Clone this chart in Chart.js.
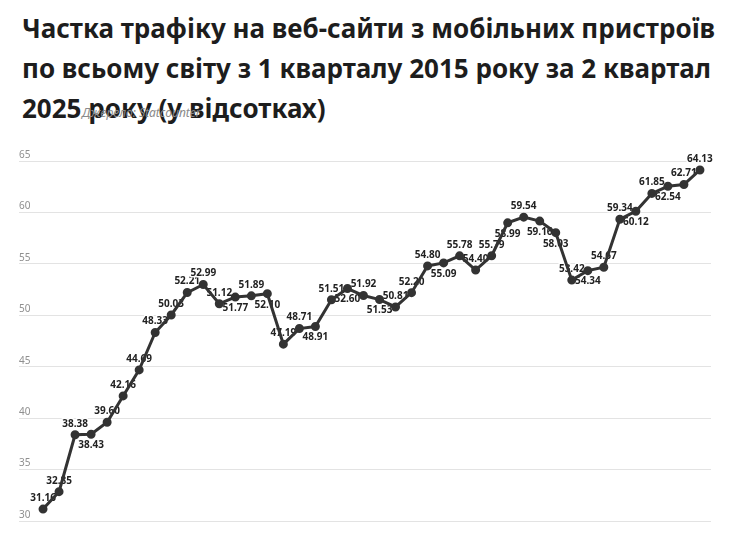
<!DOCTYPE html>
<html lang="uk">
<head>
<meta charset="utf-8">
<script src="https://cdn.jsdelivr.net/npm/chart.js@4/dist/chart.umd.min.js"></script>
<style>
  html, body { margin: 0; padding: 0; background: #fff; }
  #wrap { position: relative; width: 749px; height: 546px; overflow: hidden; }
  #title {
    position: absolute; left: 22px; top: 8px; width: 712px;
    font-family: "Noto Sans", sans-serif; font-weight: 700;
    font-size: 26px; line-height: 40px; color: #1d1d1d;
  }
  #source {
    position: absolute; left: 82px; top: 104px;
    font-family: "Noto Sans", sans-serif; font-style: italic;
    font-size: 12px; color: #8a8a8a;
  }
  canvas { position: absolute; left: 0; top: 0; }
</style>
</head>
<body>
<div id="wrap">
  <div id="title">Частка трафіку на веб-сайти з мобільних пристроїв по всьому світу з 1 кварталу 2015 року за 2 квартал 2025 року (у відсотках)</div>
  <div id="source">Джерело: Statcounter</div>
  <canvas id="chart" width="749" height="546"></canvas>
</div>
<script>
  // квартали Q1 2015 ... Q2 2025
  const years = [2015, 2016, 2017, 2018, 2019, 2020, 2021, 2022, 2023, 2024, 2025];
  const quarters = [];
  years.forEach(y => {
    for (let q = 1; q <= 4; q++) {
      if (y === 2025 && q > 2) break;
      quarters.push(`Q${q} ${y}`);
    }
  });

  const share = [
    31.16, 32.85, 38.38, 38.43, 39.60, 42.16, 44.69, 48.33, 50.03, 52.21,
    52.99, 51.12, 51.77, 51.89, 52.10, 47.19, 48.71, 48.91, 51.51, 52.60,
    51.92, 51.53, 50.81, 52.20, 54.80, 55.09, 55.78, 54.40, 55.79, 58.99,
    59.54, 59.16, 58.03, 53.42, 54.34, 54.67, 59.34, 60.12, 61.85, 62.54,
    62.71, 64.13
  ];

  const yTicks = [30, 35, 40, 45, 50, 55, 60, 65];

  // підписи, що стоять під точкою
  const labelsBelow = [3, 12, 14, 17, 19, 21, 25, 29, 31, 32, 34, 37, 39];

  const valueLabels = {
    id: "valueLabels",
    beforeDatasetsDraw(chart) {
      const ctx = chart.ctx;
      const meta = chart.getDatasetMeta(0);
      ctx.save();
      ctx.font = "bold 10px 'Noto Sans', sans-serif";
      ctx.textAlign = "center";
      ctx.textBaseline = "middle";
      ctx.lineJoin = "round";
      meta.data.forEach((pt, i) => {
        const below = labelsBelow.includes(i);
        const y = pt.y + (below ? 11 : -11);
        const text = share[i].toFixed(2);
        ctx.strokeStyle = "#fff";
        ctx.lineWidth = 3;
        ctx.strokeText(text, pt.x, y);
        ctx.fillStyle = "#222";
        ctx.fillText(text, pt.x, y);
      });
      ctx.restore();
    },
  };

  new Chart(document.getElementById("chart"), {
    type: "line",
    data: {
      labels: quarters,
      datasets: [
        {
          label: "Мобільні пристрої",
          data: share.map((v, i) => ({ x: i, y: v })),
          borderColor: "#333",
          backgroundColor: "#333",
          borderWidth: 3,
          pointRadius: 3,
          pointHoverRadius: 3,
          tension: 0,
          clip: false,
        },
      ],
    },
    plugins: [valueLabels],
    options: {
      responsive: false,
      animation: false,
      devicePixelRatio: 1,
      layout: { padding: { left: 19, right: 38, top: 161, bottom: 25 } },
      plugins: {
        legend: { display: false },
        title: { display: false },
        tooltip: { enabled: false },
      },
      scales: {
        x: {
          type: "linear",
          display: false,
          min: -1.5,
          max: 41.69,
        },
        y: {
          min: 30,
          max: 65,
          afterBuildTicks(scale) {
            scale.ticks = yTicks.map(v => ({ value: v }));
          },
          border: { display: false },
          grid: { color: "#e3e3e3", drawTicks: false, lineWidth: 1 },
          ticks: {
            mirror: true,
            padding: 0,
            labelOffset: -6,
            color: "#8f8f8f",
            font: { family: "'Noto Sans', sans-serif", size: 10 },
          },
        },
      },
    },
  });
</script>
</body>
</html>
